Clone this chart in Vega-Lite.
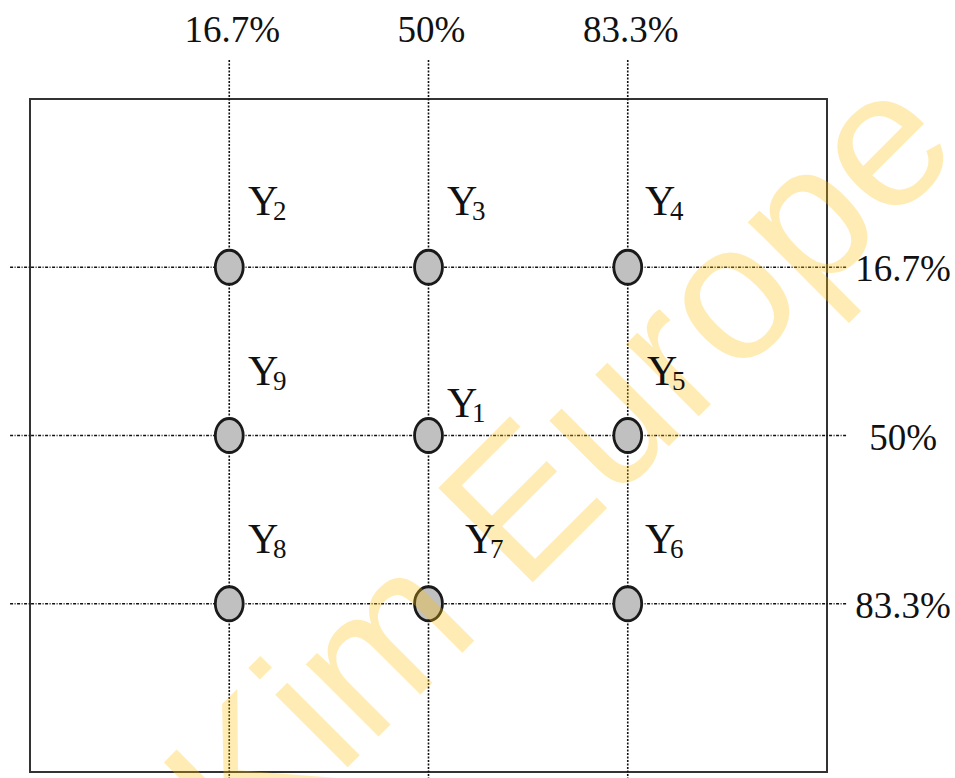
{
  "$schema": "https://vega.github.io/schema/vega-lite/v6.json",
  "width": 797,
  "height": 673,
  "autosize": "none",
  "padding": {"left": 30, "top": 99, "right": 128, "bottom": 6},
  "background": "white",
  "config": {"view": {"stroke": "#333333", "strokeWidth": 2}},
  "datasets": {
    "vlines": [
      {"pos": 0.25, "label": "16.7%"},
      {"pos": 0.5, "label": "50%"},
      {"pos": 0.75, "label": "83.3%"}
    ],
    "hlines": [
      {"pos": 0.25, "label": "16.7%"},
      {"pos": 0.5, "label": "50%"},
      {"pos": 0.75, "label": "83.3%"}
    ],
    "points": [
      {"sub": "2", "px": 0.25, "py": 0.25, "lx": 0.2735, "ly": 0.1724},
      {"sub": "3", "px": 0.5, "py": 0.25, "lx": 0.5232, "ly": 0.1724},
      {"sub": "4", "px": 0.75, "py": 0.25, "lx": 0.7716, "ly": 0.1724},
      {"sub": "9", "px": 0.25, "py": 0.5, "lx": 0.2735, "ly": 0.425},
      {"sub": "1", "px": 0.5, "py": 0.5, "lx": 0.5232, "ly": 0.4725},
      {"sub": "5", "px": 0.75, "py": 0.5, "lx": 0.7742, "ly": 0.425},
      {"sub": "8", "px": 0.25, "py": 0.75, "lx": 0.2735, "ly": 0.6746},
      {"sub": "7", "px": 0.5, "py": 0.75, "lx": 0.5458, "ly": 0.6746},
      {"sub": "6", "px": 0.75, "py": 0.75, "lx": 0.7716, "ly": 0.6746}
    ],
    "wm": [{"text": "Kim Europe", "x": 0.722, "y": 0.61}]
  },
  "resolve": {"scale": {"x": "shared", "y": "shared"}},
  "layer": [
    {
      "data": {"name": "vlines"},
      "mark": {"type": "rule", "color": "#111111", "strokeWidth": 1.6, "strokeDash": [2, 1.5]},
      "encoding": {
        "x": {"field": "pos", "type": "quantitative", "scale": {"domain": [0, 1], "nice": false, "zero": false}, "axis": null},
        "y": {"datum": -0.058, "type": "quantitative", "scale": {"domain": [0, 1], "nice": false, "zero": false, "reverse": true}, "axis": null},
        "y2": {"datum": 1.02}
      }
    },
    {
      "data": {"name": "hlines"},
      "mark": {"type": "rule", "color": "#111111", "strokeWidth": 1.6, "strokeDash": [3, 1.5, 1, 1.5]},
      "encoding": {
        "y": {"field": "pos", "type": "quantitative"},
        "x": {"datum": -0.025, "type": "quantitative"},
        "x2": {"datum": 1.025}
      }
    },
    {
      "data": {"name": "vlines"},
      "mark": {"type": "text", "font": "Liberation Serif", "fontSize": 37, "color": "#111111", "align": "center", "baseline": "alphabetic", "dx": 3},
      "encoding": {
        "x": {"field": "pos", "type": "quantitative"},
        "y": {"datum": -0.0847, "type": "quantitative"},
        "text": {"field": "label"}
      }
    },
    {
      "data": {"name": "hlines"},
      "mark": {"type": "text", "font": "Liberation Serif", "fontSize": 37, "color": "#111111", "align": "center", "baseline": "alphabetic", "dy": 14},
      "encoding": {
        "y": {"field": "pos", "type": "quantitative"},
        "x": {"datum": 1.0954, "type": "quantitative"},
        "text": {"field": "label"}
      }
    },
    {
      "data": {"name": "points"},
      "mark": {"type": "point", "filled": true, "shape": "M -0.82 0 A 0.82 1 0 1 1 0.82 0 A 0.82 1 0 1 1 -0.82 0 Z", "size": 1156, "fill": "#c0c0c0", "stroke": "#1a1a1a", "strokeWidth": 2.8, "opacity": 1},
      "encoding": {
        "x": {"field": "px", "type": "quantitative"},
        "y": {"field": "py", "type": "quantitative"}
      }
    },
    {
      "data": {"name": "wm"},
      "mark": {"type": "text", "font": "Liberation Sans", "fontSize": 194, "color": "#FFC20E", "opacity": 0.3, "angle": -45, "align": "center", "baseline": "alphabetic"},
      "encoding": {
        "x": {"field": "x", "type": "quantitative"},
        "y": {"field": "y", "type": "quantitative"},
        "text": {"field": "text"}
      }
    },
    {
      "data": {"name": "points"},
      "mark": {"type": "text", "font": "Liberation Serif", "fontSize": 42, "color": "#111111", "align": "left", "baseline": "alphabetic"},
      "encoding": {
        "x": {"field": "lx", "type": "quantitative"},
        "y": {"field": "ly", "type": "quantitative"},
        "text": {"value": "Y"}
      }
    },
    {
      "data": {"name": "points"},
      "mark": {"type": "text", "font": "Liberation Serif", "fontSize": 27, "color": "#111111", "align": "left", "baseline": "alphabetic", "dx": 25, "dy": 5},
      "encoding": {
        "x": {"field": "lx", "type": "quantitative"},
        "y": {"field": "ly", "type": "quantitative"},
        "text": {"field": "sub"}
      }
    }
  ]
}
